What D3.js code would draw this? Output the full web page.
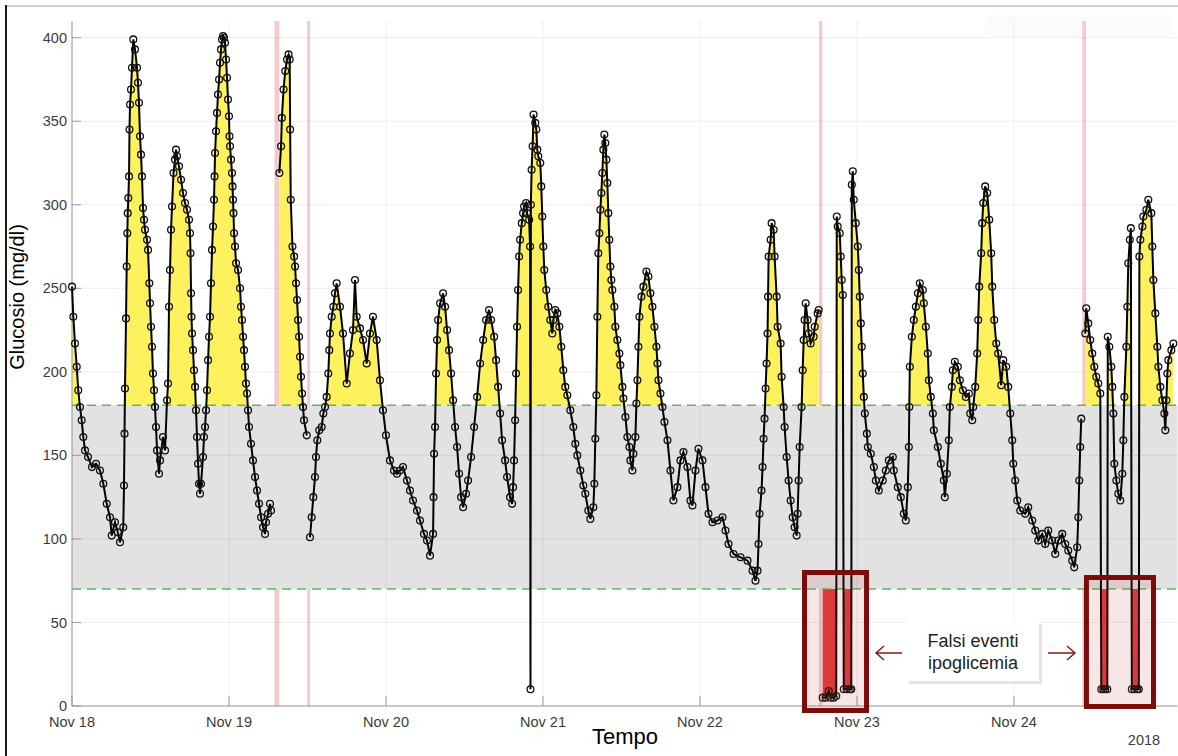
<!DOCTYPE html>
<html>
<head>
<meta charset="utf-8">
<script src="https://cdn.jsdelivr.net/npm/d3@7"></script>
<style>
  html,body{margin:0;padding:0;background:#fff;}
  svg{display:block;font-family:"Liberation Sans",Arial,Helvetica,sans-serif;}
</style>
</head>
<body>
<svg id="chart" width="1178" height="756"></svg>
<script>
// ---- data: [ore dall'inizio di Nov 18 00:00, glucosio mg/dl] ----
const sensorA = [
  [0,251],[0.2,233],[0.46,217],[0.72,203],[0.96,189],[1.22,179],[1.48,171],[1.73,161],[1.99,153],[2.45,149],
  [3.06,143],[3.67,145],[4.28,141],[4.79,133],[5.31,121],[5.81,113],[6.07,102],[6.57,110],[7.0,104],[7.34,98],
  [7.84,107],[7.95,132],[8.03,163],[8.1,190],[8.26,232],[8.36,263],[8.46,283],[8.52,295],[8.61,304],[8.72,317],
  [8.79,345],[8.87,360],[9.02,369],[9.17,382],[9.37,399],[9.63,393],[9.94,382],[10.09,373],[10.24,361],[10.4,341],
  [10.55,330],[10.7,317],[10.86,298],[11.01,291],[11.16,285],[11.47,279],[11.62,273],[11.82,253],[11.93,241],[12.08,227],
  [12.23,215],[12.38,199],[12.54,189],[12.69,179],[12.84,167],[13.0,153],[13.3,139],[13.46,147],[13.91,161],[14.22,153],
  [14.53,183],[14.68,193],[14.83,239],[14.98,261],[15.14,285],[15.29,299],[15.52,319],[15.75,327],[15.9,333],[16.05,329],
  [16.36,323],[16.67,315],[16.97,307],[17.28,301],[17.58,297],[17.89,291],[18.04,283],[18.12,271],[18.2,247],[18.27,233],
  [18.35,223],[18.5,213],[18.65,201],[18.81,191],[18.96,177],[19.11,161],[19.27,145],[19.42,133],[19.57,127],[19.72,133],
  [20.03,149],[20.18,161],[20.34,167],[20.49,177],[20.64,189],[20.8,207],[20.95,221],[21.1,233],[21.25,253],[21.41,273],
  [21.56,287],[21.71,303],[21.79,317],[21.87,331],[22.02,344],[22.17,355],[22.32,366],[22.48,375],[22.63,385],[22.78,393],
  [22.94,399],[23.09,401],[23.24,400],[23.39,397],[23.55,387],[23.7,376],[23.85,363],[24.0,353],[24.08,341],[24.16,335],
  [24.31,327],[24.46,319],[24.54,311],[24.62,303],[24.69,295],[24.77,283],[24.92,275],[25.08,265],[25.38,261],[25.69,250],
  [25.84,239],[25.99,231],[26.15,221],[26.3,213],[26.45,203],[26.6,193],[26.76,187],[26.91,177],[27.06,167],[27.37,157],
  [27.67,147],[27.98,137],[28.29,129],[28.59,121],[28.9,113],[29.2,107],[29.51,103],[29.66,110],[29.97,115],[30.27,121],
  [30.43,117]
];
const sensorB = [
  [31.7,319],[31.96,335],[32.08,352],[32.34,369],[32.6,380],[32.87,387],[33.11,390],[33.28,387],[33.35,345],[33.44,303],
  [33.7,275],[33.96,269],[34.1,263],[34.25,253],[34.4,243],[34.56,231],[34.71,221],[34.86,209],[35.01,197],[35.17,187],
  [35.32,179],[35.47,171],[35.89,162]
];
const sensorC = [
  [36.38,101],[36.64,113],[36.89,125],[37.15,137],[37.3,149],[37.5,159],[37.8,165],[38.17,167],[38.42,175],[38.68,179],
  [38.93,185],[39.18,199],[39.33,213],[39.44,223],[39.7,233],[39.95,239],[40.2,247],[40.46,253],[40.97,239],[41.43,223],
  [41.99,193],[42.49,211],[42.96,225],[43.26,255],[43.52,233],[44.03,226],[44.49,219],[45.05,205],[45.55,223],[46.01,233],
  [46.58,219],[47.08,195],[47.54,177],[48.0,162],[48.61,147],[49.22,141],[49.68,139],[50.14,141],[50.6,143],[51.21,135],
  [51.67,129],[52.13,123],[52.74,117],[53.2,111],[53.81,103],[54.27,99],[54.73,90],[55.2,103],[55.27,125],[55.35,151],
  [55.5,167],[55.66,199],[55.81,219],[55.96,231],[56.27,241],[56.73,247],[57.03,239],[57.34,225],[57.64,213],[57.95,199],
  [58.26,183],[58.56,167],[58.87,155],[59.17,139],[59.48,125],[59.79,119],[60.24,127],[60.55,135],[61.01,149],[61.47,167],
  [61.93,185],[62.39,205],[62.85,219],[63.3,231],[63.76,237],[64.07,231],[64.53,221],[64.83,207],[65.14,191],[65.45,175],
  [65.75,159],[66.21,147],[66.51,137],[66.97,125],[67.28,121],[67.43,131],[67.58,147],[67.74,171],[67.89,199],[68.04,227],
  [68.19,249],[68.35,269],[68.5,279],[68.76,289],[68.96,295],[69.11,299],[69.42,301],[69.57,295],[69.88,291],[70.03,275],
  [70.09,10],[70.15,300],[70.26,321],[70.41,335],[70.56,354],[70.82,349],[70.98,345],[71.13,333],[71.28,329],[71.59,325],
  [71.74,311],[71.89,293],[72.05,275],[72.2,261],[72.5,249],[72.81,239],[73.12,231],[73.42,223],[73.58,231],[73.88,237],
  [74.19,235],[74.5,227],[74.8,215],[75.11,201],[75.41,191],[75.72,186],[76.18,177],[76.64,167],[76.94,157],[77.25,150],
  [77.71,141],[78.17,132],[78.47,127],[78.93,117],[79.24,112],[79.7,119],[79.85,133],[80.0,160],[80.16,186],[80.31,233],
  [80.46,271],[80.62,283],[80.77,297],[80.92,307],[81.07,319],[81.23,333],[81.38,342],[81.53,337],[81.69,327],[81.84,313],
  [81.99,295],[82.14,279],[82.3,263],[82.45,255],[82.6,249],[82.91,239],[83.06,227],[83.37,219],[83.68,211],[83.83,204],
  [84.14,191],[84.29,184],[84.6,173],[84.9,161],[85.21,155],[85.36,147],[85.67,141],[85.82,151],[86.13,161],[86.28,181],
  [86.43,195],[86.59,215],[86.74,233],[87.05,245],[87.35,251],[87.81,260],[88.12,257],[88.42,247],[88.73,239],[89.04,227],
  [89.34,215],[89.5,205],[89.65,195],[89.96,187],[90.26,179],[90.57,170],[91.03,159],[91.48,141],[91.94,123],[92.55,131],
  [93.01,147],[93.47,152],[94.08,143],[94.54,123],[94.85,120],[95.31,141],[95.77,154],[96.38,147],[96.84,131],[97.3,115],
  [97.91,110],[98.67,111],[99.44,113],[99.9,105],[100.36,97],[101.13,91],[102.2,89],[103.27,87],[104.03,81],[104.49,75],
  [104.8,81],[104.95,97],[105.11,115],[105.41,129],[105.57,143],[105.72,160],[105.87,172],[106.03,190],[106.18,205],[106.33,223],
  [106.41,245],[106.49,269],[106.8,279],[106.95,289],[107.26,285],[107.41,269],[107.72,245],[107.87,227],[108.33,217],[108.48,197],
  [108.79,179],[108.94,167],[109.25,149],[109.55,135],[109.86,123],[110.17,113],[110.47,107],[110.78,102],[110.93,115],[111.08,135],
  [111.24,155],[111.54,179],[111.7,201],[111.85,219],[112.0,231],[112.16,241],[112.46,231],[112.62,223],[112.92,217],[113.38,221],
  [113.54,227],[113.99,235],[114.15,237]
];
const sensorD = [
  [114.76,5],[115.22,5],[115.68,9],[115.99,5],[116.45,5],[116.83,6],[116.91,293],[117.06,287],[117.37,283],[117.52,269],
  [117.67,255],[117.83,246],[117.98,10],[118.44,10],[118.9,10],[119.13,10],[119.21,312],[119.36,320],[119.51,303],[119.82,289],
  [120.13,275],[120.28,261],[120.43,245],[120.59,229],[120.74,215],[120.89,199],[121.05,185],[121.2,175],[121.51,163],[121.66,155],
  [122.12,151],[122.58,143],[122.88,135],[123.34,129],[123.95,135],[124.41,141],[124.87,147],[125.48,149],[125.63,141],[126.24,131],
  [126.7,125],[127.16,115],[127.47,111],[127.77,131],[127.93,155],[128.0,179],[128.08,203],[128.39,221],[128.69,231],[129.0,239],
  [129.31,247],[129.61,253],[130.07,249],[130.22,241],[130.53,227],[130.83,211],[130.99,195],[131.29,185],[131.6,175],[131.75,165],
  [132.36,155],[132.82,145],[133.28,135],[133.43,125],[133.74,139],[134.04,159],[134.2,179],[134.5,191],[134.66,201],[134.96,206],
  [135.42,203],[135.73,195],[136.19,189],[136.65,185],[137.11,187],[137.31,175],[137.62,171],[137.77,179],[138.08,191],[138.38,211],
  [138.53,231],[138.69,251],[138.99,271],[139.14,289],[139.3,301],[139.6,311],[139.91,307],[140.22,291],[140.52,271],[140.68,251],
  [140.98,231],[141.29,217],[141.59,211],[142.05,192],[142.36,207],[142.82,203],[143.12,191],[143.43,175],[143.74,159],[143.89,145],
  [144.19,135],[144.5,123],[144.96,117],[145.72,115],[146.18,119],[146.79,111],[147.25,105],[147.71,99],[148.32,103],[148.78,97],
  [149.24,105],[149.85,99],[150.31,91],[150.77,99],[151.38,103],[151.84,97],[152.3,93],[152.91,87],[153.21,83],[153.67,95],
  [153.83,113],[153.98,135],[154.13,155],[154.29,172]
];
const sensorE = [
  [154.9,223],[155.05,238],[155.36,229],[155.66,219],[155.97,211],[156.28,203],[156.58,197],[156.89,193],[157.2,187],[157.35,10],
  [157.66,10],[157.96,10],[158.27,10],[158.34,221],[158.58,215],[158.88,203],[159.03,191],[159.19,175],[159.34,145],[159.65,135],
  [159.95,127],[160.26,123],[160.56,139],[160.72,159],[160.87,185],[161.18,215],[161.33,239],[161.48,265],[161.71,279],[161.87,286],
  [162.02,10],[162.4,10],[162.86,10],[163.09,10],[163.17,269],[163.32,279],[163.63,287],[163.78,293],[164.24,297],[164.54,303],
  [165.0,295],[165.15,275],[165.31,255],[165.61,235],[165.92,215],[166.07,203],[166.38,191],[166.68,183],[166.99,175],[167.14,165],
  [167.3,183],[167.45,199],[167.6,207],[168.06,213],[168.37,217]
];

// bande rosa (calibrazioni / interruzioni del sensore), ore
const gapBands = [[30.95,31.7],[35.95,36.4],[114.2,114.7],[154.45,155.0]];
const targetRange = [70, 180];
const dayTicks = [0,24,48,72,96,120,144];
const dayLabels = ["Nov 18","Nov 19","Nov 20","Nov 21","Nov 22","Nov 23","Nov 24"];
const yTicks = [0,50,100,150,200,250,300,350,400];
// riquadri "falsi eventi" [ore inizio, ore fine, mg/dl alto, mg/dl basso]
const falseBoxes = [[111.98,121.46,79.9,-2.7],[155.08,165.33,76.9,-0.3]];

const W=1178, H=756;
const L=72, R=1177.5, T=21, B=706;

const svg = d3.select("#chart");
const x = d3.scaleLinear().domain([0,169]).range([L,R]);
const y = d3.scaleLinear().domain([0,410]).range([B,T]);

// cornice dello screenshot
svg.append("line").attr("x1",6).attr("x2",W).attr("y1",6).attr("y2",6)
  .attr("stroke","#d0d0d0").attr("stroke-width",2);
svg.append("line").attr("x1",6).attr("x2",6).attr("y1",5).attr("y2",H)
  .attr("stroke","#1a1a1a").attr("stroke-width",2);
svg.append("rect").attr("x",985).attr("y",15).attr("width",188).attr("height",22)
  .attr("rx",8).attr("fill","#fbfbfb");

const series = [...sensorA, null, ...sensorB, null, ...sensorC, null, ...sensorD, null, ...sensorE];
const pts = series.filter(d => d);

// bande rosa
svg.append("g").selectAll("rect").data(gapBands).join("rect")
  .attr("x", d => x(d[0])).attr("width", d => x(d[1]) - x(d[0]))
  .attr("y", T).attr("height", B - T)
  .attr("fill","#f6c9cc");

// fascia target grigia
svg.append("rect")
  .attr("x", L).attr("width", R - L)
  .attr("y", y(targetRange[1])).attr("height", y(targetRange[0]) - y(targetRange[1]))
  .attr("fill","#e2e2e2");

// griglia
const grid = svg.append("g").attr("stroke","#000").attr("stroke-opacity",0.07);
grid.selectAll(".gx").data(dayTicks).join("line")
  .attr("x1", d => x(d)).attr("x2", d => x(d)).attr("y1", T).attr("y2", B);
grid.selectAll(".gy").data(yTicks).join("line")
  .attr("x1", L).attr("x2", R).attr("y1", d => y(d)).attr("y2", d => y(d));

// clip per iper / ipo
const defs = svg.append("defs");
defs.append("clipPath").attr("id","clipHi").append("rect")
  .attr("x",L).attr("y",T).attr("width",R-L).attr("height",y(targetRange[1])-T);
defs.append("clipPath").attr("id","clipLo").append("rect")
  .attr("x",L).attr("y",y(targetRange[0])).attr("width",R-L).attr("height",B-y(targetRange[0]));

const areaHi = d3.area().defined(d => d)
  .x(d => x(d[0])).y0(y(targetRange[1])).y1(d => y(d[1]));
const areaLo = d3.area().defined(d => d)
  .x(d => x(d[0])).y0(y(targetRange[0])).y1(d => y(d[1]));

svg.append("path").datum(series).attr("d", areaHi)
  .attr("fill","#fdf25e").attr("clip-path","url(#clipHi)");
svg.append("path").datum(series).attr("d", areaLo)
  .attr("fill","#e0393b").attr("clip-path","url(#clipLo)");

// linee tratteggiate verdi
svg.append("g").selectAll("line").data(targetRange).join("line")
  .attr("x1", L).attr("x2", R).attr("y1", d => y(d)).attr("y2", d => y(d))
  .attr("stroke","#5cb85c").attr("stroke-width",1.6).attr("stroke-dasharray","9,6");

// assi
const axes = svg.append("g").attr("stroke","#9a9a9a").attr("stroke-width",1);
axes.append("line").attr("x1",L).attr("x2",L).attr("y1",T).attr("y2",B);
axes.append("line").attr("x1",L).attr("x2",R).attr("y1",B).attr("y2",B);
axes.selectAll(".ty").data(yTicks).join("line")
  .attr("x1",L).attr("x2",L+9).attr("y1",d=>y(d)).attr("y2",d=>y(d));
axes.selectAll(".tx").data(dayTicks).join("line")
  .attr("x1",d=>x(d)).attr("x2",d=>x(d)).attr("y1",B).attr("y2",B-10);

svg.append("g").selectAll("text").data(yTicks).join("text")
  .attr("x", L-5).attr("y", d => y(d)).attr("dy","0.35em")
  .attr("text-anchor","end").attr("font-size",14.5).attr("fill","#3c3c3c")
  .text(d => d);
svg.append("g").selectAll("text").data(dayTicks).join("text")
  .attr("x", d => x(d)).attr("y", B+21)
  .attr("text-anchor","middle").attr("font-size",14.5).attr("fill","#3c3c3c")
  .text((d,i) => dayLabels[i]);
svg.append("text").attr("x",1144).attr("y",745).attr("text-anchor","middle")
  .attr("font-size",14.5).attr("fill","#3c3c3c").text("2018");

// serie glucosio
const line = d3.line().defined(d => d).x(d => x(d[0])).y(d => y(d[1]));
svg.append("path").datum(series).attr("d", line)
  .attr("fill","none").attr("stroke","#000").attr("stroke-width",2);
svg.append("g").selectAll("circle").data(pts).join("circle")
  .attr("cx", d => x(d[0])).attr("cy", d => y(d[1])).attr("r",3.4)
  .attr("fill","none").attr("stroke","#111").attr("stroke-width",1.3);

// titoli assi
svg.append("text").attr("transform","translate(24,297) rotate(-90)")
  .attr("text-anchor","middle").attr("font-size",20).attr("fill","#000")
  .text("Glucosio (mg/dl)");
svg.append("text").attr("x",625).attr("y",744).attr("text-anchor","middle")
  .attr("font-size",22).attr("fill","#000").text("Tempo");

// riquadri falsi eventi
svg.append("g").selectAll("rect").data(falseBoxes).join("rect")
  .attr("x", d => x(d[0])).attr("width", d => x(d[1]) - x(d[0]))
  .attr("y", d => y(d[2])).attr("height", d => y(d[3]) - y(d[2]))
  .attr("fill","rgba(190,60,60,0.13)").attr("stroke","#7a0c0c").attr("stroke-width",5);

// box testo
const note = svg.append("g");
note.append("rect").attr("x",909).attr("y",624).attr("width",133).attr("height",60)
  .attr("fill","#d8d8d8").attr("opacity",0.7);
note.append("rect").attr("x",907).attr("y",622).attr("width",132).attr("height",59)
  .attr("fill","#fff");
note.append("text").attr("x",973).attr("y",647).attr("text-anchor","middle")
  .attr("font-size",18).attr("fill","#222").text("Falsi eventi");
note.append("text").attr("x",973).attr("y",669).attr("text-anchor","middle")
  .attr("font-size",18).attr("fill","#222").text("ipoglicemia");

const arr = note.append("g").attr("stroke","#8b1a1a").attr("stroke-width",1.5).attr("fill","none");
arr.append("path").attr("d","M876,653 L902,653 M884,646 L876,653 L884,660");
arr.append("path").attr("d","M1048,653 L1075,653 M1067,646 L1075,653 L1067,660");
</script>
</body>
</html>
